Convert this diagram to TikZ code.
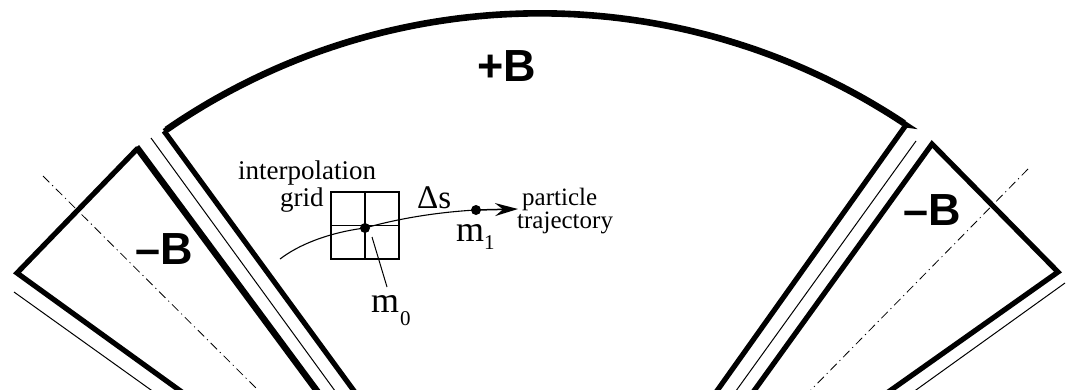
\documentclass[tikz,border=0pt]{standalone}
\usepackage{fontspec}
\setmainfont{Liberation Serif}
\newfontfamily\labelsans{Liberation Sans}[BoldFont={Liberation Sans Bold}]
\usetikzlibrary{arrows.meta}
\tikzset{
  yoke/.style={line width=5.2pt,miter limit=10,line join=miter},
  thinline/.style={line width=1pt},
  axisline/.style={line width=.8pt,dash pattern=on 9pt off 4pt on 1.2pt off 4pt},
  gridline/.style={line width=1.1pt},
  field/.style={inner sep=0pt,anchor=base west,font=\labelsans\bfseries\fontsize{45}{45}\selectfont},
  lab/.style={inner sep=0pt,anchor=base west,font=\fontsize{27}{27}\selectfont},
  labsm/.style={inner sep=0pt,anchor=base west,font=\fontsize{25}{25}\selectfont},
  sym/.style={inner sep=0pt,anchor=base west,font=\fontsize{33}{33}\selectfont},
  massname/.style={inner sep=0pt,anchor=base west,font=\fontsize{36}{36}\selectfont},
  subs/.style={inner sep=0pt,anchor=base west,font=\fontsize{21}{21}\selectfont},
  mass/.style={circle,fill=black,inner sep=0pt,minimum size=10pt},
}
\begin{document}
\begin{tikzpicture}[x=1pt,y=-1pt]
\useasboundingbox (0,0) rectangle (1070,389);
\clip (0,0) rectangle (1070,389);
% central yoke
\draw[yoke] (357,395) -- (164,131) -- plot[domain=124.85:56.1,samples=90] ({540+657.7*cos(\x)},{671-657.7*sin(\x)}) -- (906,125) -- (714,395);
\draw[line width=6.6pt] plot[domain=124.6:56.4,samples=90] ({540+657.7*cos(\x)},{671-657.7*sin(\x)});
% left yoke
\draw[yoke] (186,395) -- (17,273) -- (138,148);
\draw[line width=6.5pt] (136.5,147) -- (320,395);
% right yoke
\draw[yoke] (884,395) -- (1058,272) -- (932,144) -- (751,395);
% thin gap lines
\draw[thinline] (151,138) -- (338,395);
\draw[thinline] (916,141) -- (733,395);
\draw[thinline] (14,292) -- (158,395);
\draw[thinline] (1065,283) -- (909,395);
% axes
\draw[axisline] (43,176) -- (263,395);
\draw[axisline] (1028,169) -- (806,395);
% labels
\node[field] (plusb) at (477,81) {+B};
\node[field] (minusl) at (135,264) {–B};
\node[field] (minusr) at (903,225) {–B};
% grid
\node[draw,line width=1.1pt,minimum size=0pt,inner sep=0pt,minimum width=68pt,minimum height=67pt] (cell) at (365,225.5) {};
\draw[gridline] (cell.north) -- (cell.south);
\draw[gridline] (cell.west) -- (cell.east);
% trajectory
\node[mass] (m0) at (365,228) {};
\node[mass] (m1) at (476,210) {};
\coordinate (start) at (280,259);
\coordinate (tip) at (518,209);
\draw[line width=1.1pt] (start) .. controls (305,240) and (340,231) .. (m0.center) .. controls (400,218) and (440,212) .. (m1.center);
\draw[line width=1.5pt,-{Stealth[length=23pt,width=13pt,inset=8pt]}] (m1.center) -- (tip);
% leader
\coordinate (leadtop) at (372,237);
\coordinate (leadbot) at (387,287);
\draw[line width=1pt] (leadtop) -- (leadbot);
% text
\node[lab] (interp) at (238,179) {interpolation};
\node[lab] (grid) at (280,206) {grid};
\node[labsm] (part) at (522,205) {particle};
\node[labsm] (traj) at (517,228) {trajectory};
\node[sym] (ds) at (417,208) {Δs};
\node[massname] (mz) at (371,312) {m};
\node[subs] (mzs) at (400,325) {0};
\node[massname] (mo) at (456,241) {m};
\node[subs] (mos) at (484,249) {1};
\end{tikzpicture}
\end{document}
